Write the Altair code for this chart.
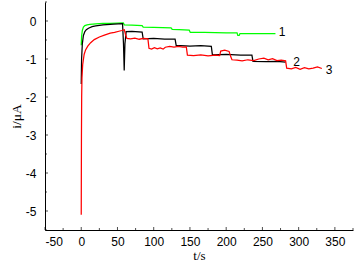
import altair as alt
import pandas as pd

# Curve 1 (green)
t_1 = [0, 0.5, 1.5, 3, 5, 8, 12, 20, 30, 40, 50, 58, 59.5, 70, 84, 85.5, 100, 124, 125.5, 135, 149, 150.5, 170, 200, 215, 216, 218, 219, 240, 268]
i_1 = [-0.64, -0.4, -0.25, -0.16, -0.12, -0.1, -0.09, -0.075, -0.065, -0.06, -0.055, -0.05, -0.1, -0.11, -0.12, -0.16, -0.17, -0.18, -0.22, -0.23, -0.24, -0.3, -0.3, -0.31, -0.31, -0.38, -0.38, -0.33, -0.33, -0.33]

# Curve 2 (black)
t_2 = [0, 0.5, 1.5, 3, 5, 7, 10, 15, 20, 30, 45, 57, 58.3, 59.3, 60.3, 62, 70, 84, 85.5, 100, 115, 129.5, 131, 150, 165, 179.5, 181, 200, 220, 235.5, 237, 255, 270, 282]
i_2 = [-1.66, -1.0, -0.6, -0.38, -0.28, -0.23, -0.19, -0.15, -0.13, -0.1, -0.08, -0.07, -0.6, -1.3, -0.6, -0.28, -0.27, -0.29, -0.47, -0.46, -0.48, -0.48, -0.64, -0.66, -0.65, -0.67, -0.89, -0.88, -0.9, -0.9, -1.06, -1.07, -1.06, -1.08]

# Curve 3 (red)
t_3 = [0, 0.3, 0.6, 1, 2, 4, 6, 9, 13, 18, 25, 32, 40, 46, 52, 56, 59.5, 61, 63, 68, 74, 80, 86, 92, 93.5, 97, 101, 105, 109, 113, 116, 122, 128, 134, 140, 145, 146.5, 155, 165, 175, 185, 191, 192.5, 198, 204, 206.5, 208, 215, 222, 230, 238, 245, 252, 258, 264, 270, 276, 282, 283.5, 290, 296, 302, 308, 314, 320, 326, 332]
i_3 = [-5.1, -3.0, -2.0, -1.5, -1.15, -0.88, -0.76, -0.66, -0.57, -0.49, -0.42, -0.37, -0.32, -0.3, -0.27, -0.25, -0.23, -0.35, -0.46, -0.47, -0.45, -0.48, -0.46, -0.47, -0.72, -0.74, -0.7, -0.73, -0.71, -0.74, -0.69, -0.67, -0.69, -0.67, -0.69, -0.68, -0.9, -0.91, -0.89, -0.92, -0.9, -0.91, -0.79, -0.77, -0.8, -0.95, -1.02, -1.03, -1.05, -1.02, -1.04, -1.0, -0.98, -1.02, -0.99, -1.04, -1.03, -1.05, -1.24, -1.26, -1.22, -1.27, -1.23, -1.26, -1.24, -1.21, -1.25]

series_names = ["1", "2", "3"]
series_colors = ["#00ff00", "#000000", "#ff0000"]

label_text = ["1", "2", "3"]
label_t = [277, 297, 342]
label_i = [-0.29, -1.08, -1.29]

x_major = [-50, 0, 50, 100, 150, 200, 250, 300, 350]
x_minor = [-25, 25, 75, 125, 175, 225, 275, 325, 375]
y_major = [-5, -4, -3, -2, -1, 0]
y_minor = [-5.5, -4.5, -3.5, -2.5, -1.5, -0.5, 0.5]
x_domain = [-50, 375]
y_domain = [-5.5, 0.5]

rows = []
for name, ts, vs in zip(series_names, [t_1, t_2, t_3], [i_1, i_2, i_3]):
    for k, (t, v) in enumerate(zip(ts, vs)):
        rows.append({"series": name, "t": t, "i": v, "k": k})
df = pd.DataFrame(rows)

xs = alt.Scale(domain=x_domain, nice=False, zero=False)
ys = alt.Scale(domain=y_domain, nice=False, zero=False)

x_axis = alt.Axis(values=x_major, ticks=False, tickSize=0, grid=False, domainColor="black",
                  domainWidth=1, labelFont="Liberation Sans", labelFontSize=12, labelColor="black",
                  labelPadding=6, labelOverlap=False, labelExpr="toString(datum.value)",
                  title="t/s", titleFont="Liberation Serif", titleFontSize=13,
                  titleFontWeight="normal", titleColor="black", titlePadding=2)
y_axis = alt.Axis(values=y_major, ticks=False, tickSize=0, grid=False, domainColor="black",
                  domainWidth=1, labelFont="Liberation Sans", labelFontSize=12, labelColor="black",
                  labelPadding=9, labelOverlap=False, labelExpr="toString(datum.value)",
                  title="i/\u03bcA", titleFont="Liberation Serif", titleFontSize=13.5,
                  titleFontWeight="normal", titleColor="black", titlePadding=2)

lines = alt.Chart(df).mark_line(strokeWidth=1.25, interpolate="linear").encode(
    x=alt.X("t:Q", scale=xs, axis=x_axis),
    y=alt.Y("i:Q", scale=ys, axis=y_axis),
    color=alt.Color("series:N", scale=alt.Scale(domain=series_names, range=series_colors), legend=None),
    order="k:Q",
)

labels = alt.Chart(pd.DataFrame({"t": label_t, "i": label_i, "txt": label_text})).mark_text(
    font="Liberation Sans", fontSize=12, color="black"
).encode(x=alt.X("t:Q", scale=xs, axis=x_axis), y=alt.Y("i:Q", scale=ys, axis=y_axis), text="txt:N")

def xticks(vals, size):
    return alt.Chart(pd.DataFrame({"t": vals})).mark_tick(
        orient="vertical", size=size, thickness=1, color="black", yOffset=-size / 2
    ).encode(x=alt.X("t:Q", scale=xs, axis=x_axis), y=alt.Y(datum=y_domain[0], scale=ys, axis=y_axis))

def yticks(vals, size):
    return alt.Chart(pd.DataFrame({"i": vals})).mark_tick(
        orient="horizontal", size=size, thickness=1, color="black", xOffset=size / 2
    ).encode(y=alt.Y("i:Q", scale=ys, axis=y_axis), x=alt.X(datum=x_domain[0], scale=xs, axis=x_axis))

chart = alt.layer(
    lines, labels,
    xticks(x_major, 3), xticks(x_minor, 2),
    yticks(y_major, 3), yticks(y_minor, 2),
).properties(
    width=308, height=228,
    autosize=alt.AutoSizeParams(type="none"),
    padding={"left": 45, "top": 2, "right": 3, "bottom": 38},
    background="white",
).configure_view(stroke=None).configure_axis(labelOverlap=False)

chart.save("out.html", embed_options={"renderer": "svg", "actions": False})
